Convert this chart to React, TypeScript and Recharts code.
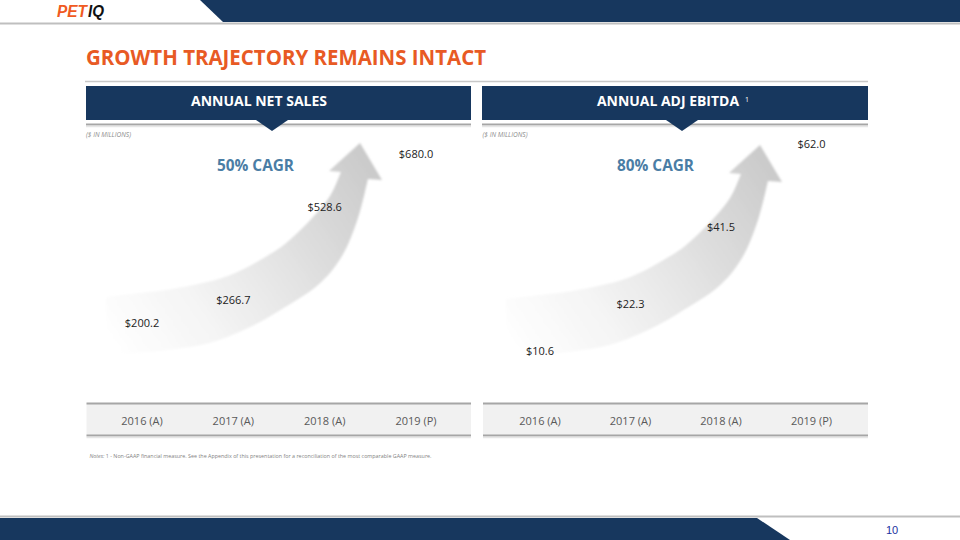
import React from 'react';
import { LineChart, Line, XAxis, YAxis, LabelList } from 'recharts';

const years = ['2016 (A)', '2017 (A)', '2018 (A)', '2019 (P)'];
const netSales = [200.2, 266.7, 528.6, 680.0];
const adjEbitda = [10.6, 22.3, 41.5, 62.0];
const netSalesDomain = [0, 800];
const ebitdaDomain = [0, 70];

const salesData = years.map((year, i) => ({ year, value: netSales[i] }));
const ebitdaData = years.map((year, i) => ({ year, value: adjEbitda[i] }));

const NAVY = '#17375E';
const ORANGE = '#E85A24';
const FONT = '"Open Sans", sans-serif';

// decorative arrow outline (page coordinates of left panel)
const outerEdge: [number, number][] = [
  [106, 355], [150, 352], [205, 344], [248, 328], [282, 309], [318, 285], [342, 256], [358, 218], [368, 179],
];
const innerEdge: [number, number][] = [
  [341, 172], [330, 196], [313, 217], [293, 237], [272, 253], [228, 276], [178, 288], [140, 293], [106, 297],
];

function smooth(pts: [number, number][]) {
  let d = '';
  for (let i = 0; i < pts.length - 1; i++) {
    const p0 = pts[Math.max(0, i - 1)];
    const p1 = pts[i];
    const p2 = pts[i + 1];
    const p3 = pts[Math.min(pts.length - 1, i + 2)];
    const c1x = p1[0] + (p2[0] - p0[0]) / 6;
    const c1y = p1[1] + (p2[1] - p0[1]) / 6;
    const c2x = p2[0] - (p3[0] - p1[0]) / 6;
    const c2y = p2[1] - (p3[1] - p1[1]) / 6;
    d += ` C${c1x.toFixed(1)},${c1y.toFixed(1)} ${c2x.toFixed(1)},${c2y.toFixed(1)} ${p2[0]},${p2[1]}`;
  }
  return d;
}

const ARROW =
  `M${outerEdge[0][0]},${outerEdge[0][1]}` +
  smooth(outerEdge) +
  ' L382,180 L360,143 L329,171' +
  ` L${innerEdge[0][0]},${innerEdge[0][1]}` +
  smooth(innerEdge) +
  ' Z';

type PanelProps = {
  data: { year: string; value: number }[];
  domain: number[];
  left: number;
  mLeft: number;
  mRight: number;
};

function Panel({ data, domain, left, mLeft, mRight }: PanelProps) {
  return (
    <div style={{ position: 'absolute', left, top: 0 }}>
      <LineChart
        width={480}
        height={540}
        data={data}
        margin={{ top: 112, right: mRight, bottom: 106.5, left: mLeft }}
      >
        <XAxis
          dataKey="year"
          scale="point"
          height={40}
          axisLine={false}
          tickLine={false}
          tickSize={0}
          tickMargin={24}
          interval={0}
          tick={{ fontSize: 11, fill: '#595959', fontFamily: FONT }}
        />
        <YAxis hide domain={domain} type="number" />
        <Line
          dataKey="value"
          stroke="none"
          dot={false}
          activeDot={false}
          isAnimationActive={false}
        >
          <LabelList
            dataKey="value"
            position="center"
            formatter={(v: any) => `$${Number(v).toFixed(1)}`}
            fontSize={11}
            fill="#222222"
            fontFamily={FONT}
          />
        </Line>
      </LineChart>
    </div>
  );
}

function Background() {
  return (
    <svg width={960} height={540} style={{ position: 'absolute', left: 0, top: 0 }}>
      <defs>
        <linearGradient id="arrowGrad" gradientUnits="userSpaceOnUse" x1="108" y1="340" x2="375" y2="158">
          <stop offset="0" stopColor="#ffffff" />
          <stop offset="0.3" stopColor="#f4f4f4" />
          <stop offset="0.62" stopColor="#e1e1e1" />
          <stop offset="1" stopColor="#c9c9c9" />
        </linearGradient>
        <filter id="soft" x="-5%" y="-5%" width="110%" height="110%">
          <feGaussianBlur stdDeviation="0.8" />
        </filter>
      </defs>

      {/* top band */}
      <polygon points="200,0 960,0 960,22 223,22" fill={NAVY} />
      <line x1={0} x2={960} y1={23.5} y2={23.5} stroke="#BFBFBF" strokeWidth={2} />
      <text x={57} y={17} fontFamily='"Liberation Sans", sans-serif' fontWeight="bold" fontStyle="italic" fontSize={16} fill="#F05A22" textLength={30} lengthAdjust="spacingAndGlyphs">PET</text>
      <text x={88} y={17} fontFamily='"Liberation Sans", sans-serif' fontWeight="bold" fontStyle="italic" fontSize={16} fill="#111111" textLength={16} lengthAdjust="spacingAndGlyphs">IQ</text>

      {/* title */}
      <text x={86} y={65} fontFamily={FONT} fontWeight="bold" fontSize={21} fill={ORANGE} textLength={400} lengthAdjust="spacingAndGlyphs">GROWTH TRAJECTORY REMAINS INTACT</text>
      <line x1={85} x2={868} y1={81.5} y2={81.5} stroke="#C8C8C8" strokeWidth={1.5} />

      {/* headers */}
      <rect x={86} y={86} width={385} height={34} fill={NAVY} />
      <rect x={482} y={86} width={386} height={34} fill={NAVY} />
      <line x1={86} x2={471} y1={124.5} y2={124.5} stroke="#A6A6A6" strokeWidth={2} />
      <line x1={482} x2={868} y1={124.5} y2={124.5} stroke="#A6A6A6" strokeWidth={2} />
      <line x1={86} x2={471} y1={126.5} y2={126.5} stroke="#E6E6E6" strokeWidth={1.5} />
      <line x1={482} x2={868} y1={126.5} y2={126.5} stroke="#E6E6E6" strokeWidth={1.5} />
      <polygon points="256,120 288,120 272,131" fill={NAVY} />
      <polygon points="666,120 698,120 682,131" fill={NAVY} />
      <text x={191} y={106} fontFamily={FONT} fontWeight="bold" fontSize={14} fill="#ffffff" textLength={136} lengthAdjust="spacingAndGlyphs">ANNUAL NET SALES</text>
      <text x={597} y={106} fontFamily={FONT} fontWeight="bold" fontSize={14} fill="#ffffff" textLength={142} lengthAdjust="spacingAndGlyphs">ANNUAL ADJ EBITDA</text>
      <text x={745} y={102} fontFamily={FONT} fontSize={7} fill="#ffffff">1</text>

      <text x={86} y={137} fontFamily={FONT} fontStyle="italic" fontSize={6.5} fill="#8C8C8C" textLength={45} lengthAdjust="spacingAndGlyphs">($ IN MILLIONS)</text>
      <text x={482.5} y={137} fontFamily={FONT} fontStyle="italic" fontSize={6.5} fill="#8C8C8C" textLength={45} lengthAdjust="spacingAndGlyphs">($ IN MILLIONS)</text>

      {/* arrows */}
      <path d={ARROW} fill="url(#arrowGrad)" filter="url(#soft)" />
      <g transform="translate(400,2)">
        <path d={ARROW} fill="url(#arrowGrad)" filter="url(#soft)" />
      </g>

      {/* CAGR */}
      <text x={217} y={170.5} fontFamily={FONT} fontWeight="bold" fontSize={16} fill="#4A7DA5" textLength={77} lengthAdjust="spacingAndGlyphs">50% CAGR</text>
      <text x={617} y={170.5} fontFamily={FONT} fontWeight="bold" fontSize={16} fill="#4A7DA5" textLength={77} lengthAdjust="spacingAndGlyphs">80% CAGR</text>

      {/* category bands */}
      <rect x={86.5} y={403.5} width={384.5} height={32} fill="#F1F1F1" />
      <rect x={483} y={403.5} width={385} height={32} fill="#F1F1F1" />
      <line x1={86.5} x2={471} y1={403.5} y2={403.5} stroke="#A6A6A6" strokeWidth={2} />
      <line x1={86.5} x2={471} y1={435.5} y2={435.5} stroke="#A6A6A6" strokeWidth={2} />
      <line x1={483} x2={868} y1={403.5} y2={403.5} stroke="#A6A6A6" strokeWidth={2} />
      <line x1={483} x2={868} y1={435.5} y2={435.5} stroke="#A6A6A6" strokeWidth={2} />
      <line x1={86.5} x2={471} y1={437.5} y2={437.5} stroke="#E6E6E6" strokeWidth={1.5} />
      <line x1={483} x2={868} y1={437.5} y2={437.5} stroke="#E6E6E6" strokeWidth={1.5} />

      {/* notes */}
      <text x={89.5} y={457.5} fontFamily={FONT} fontSize={5} fill="#7F7F7F" textLength={342} lengthAdjust="spacingAndGlyphs">
        <tspan fontStyle="italic">Notes: </tspan>1 - Non-GAAP financial measure.  See the Appendix of this presentation for a reconciliation of the most comparable GAAP measure.
      </text>

      {/* footer */}
      <line x1={0} x2={960} y1={516.5} y2={516.5} stroke="#BFBFBF" strokeWidth={2} />
      <polygon points="0,518 757,518 790,540 0,540" fill={NAVY} />
      <text x={886} y={533.5} fontFamily='"Liberation Sans", sans-serif' fontSize={11} fill="#2030A0">10</text>
    </svg>
  );
}

export default function App() {
  return (
    <div style={{ position: 'absolute', left: 0, top: 0, width: 960, height: 540, background: '#ffffff', overflow: 'hidden' }}>
      <Background />
      <Panel data={salesData} domain={netSalesDomain} left={0} mLeft={142} mRight={64} />
      <Panel data={ebitdaData} domain={ebitdaDomain} left={480} mLeft={60} mRight={148.5} />
    </div>
  );
}
